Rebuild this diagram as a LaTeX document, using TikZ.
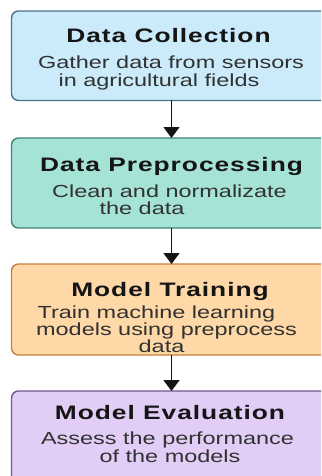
\documentclass[tikz,border=0pt]{standalone}
\usepackage{fontspec}
\usetikzlibrary{arrows.meta}
\newfontfamily\titlefont[FakeStretch=1.35,LetterSpace=5]{Liberation Sans}
\newfontfamily\bodyfont[FakeStretch=1.34]{Liberation Sans}

\definecolor{collectfill}{HTML}{CBEBFB}
\definecolor{collectline}{HTML}{4A7384}
\definecolor{prepfill}{HTML}{A6E3D7}
\definecolor{prepline}{HTML}{3F8577}
\definecolor{trainfill}{HTML}{FFD8A8}
\definecolor{trainline}{HTML}{C7803F}
\definecolor{evalfill}{HTML}{E2CDF6}
\definecolor{evalline}{HTML}{6C5B8E}
\definecolor{ink}{HTML}{151515}

\tikzset{
  stage/.style={draw, rectangle, rounded corners=7pt, line width=1.4pt,
    minimum width=320pt, inner sep=0pt, outer sep=0pt},
  heading/.style={anchor=base, inner sep=0pt, text=ink,
    font=\titlefont\bfseries\fontsize{19.5}{21}\selectfont},
  detail/.style={anchor=base, inner sep=0pt, text=ink!88,
    font=\bodyfont\fontsize{17.5}{19}\selectfont},
  flow/.style={line width=1.5pt, ink, -{Triangle[width=16pt,length=11pt]}}
}

\begin{document}
\begin{tikzpicture}[x=1pt,y=-1pt]
\useasboundingbox (0,0) rectangle (321,476);
\begin{scope}
\clip (0,0) rectangle (321,476);

% stage boxes
\node[stage, fill=collectfill, draw=collectline, minimum height=89.5pt] (b1) at (171.5,55.75) {};
\node[stage, fill=prepfill, draw=prepline, minimum height=90pt] (b2) at (171.5,183) {};
\node[stage, fill=trainfill, draw=trainline, minimum height=91pt] (b3) at (171.5,309.5) {};
\node[stage, fill=evalfill, draw=evalline, minimum height=100pt] (b4) at (171.5,441) {};

% connectors
\draw[flow] (b1.south) -- (b2.north);
\draw[flow] (b2.south) -- (b3.north);
\draw[flow] (b3.south) -- (b4.north);

% stage 1
\node[heading] (h1) at (168.5,43) {Data Collection};
\node[detail] (d1a) at (171,69) {Gather data from sensors};
\node[detail] (d1b) at (159,86.5) {in agricultural fields};

% stage 2
\node[heading] (h2) at (171.5,171.5) {Data Preprocessing};
\node[detail] (d2a) at (169.5,197.5) {Clean and normalizate};
\node[detail] (d2b) at (142,214.5) {the data};

% stage 3
\node[heading] (h3) at (170,296.5) {Model Training};
\node[detail] (d3a) at (156.5,318) {Train machine learning};
\node[detail] (d3b) at (166.5,335) {models using preprocess};
\node[detail] (d3c) at (161.5,352) {data};

% stage 4
\node[heading] (h4) at (170,419.5) {Model Evaluation};
\node[detail] (d4a) at (167.5,444.5) {Assess the performance};
\node[detail] (d4b) at (170,462) {of the models};
\end{scope}
\end{tikzpicture}
\end{document}
